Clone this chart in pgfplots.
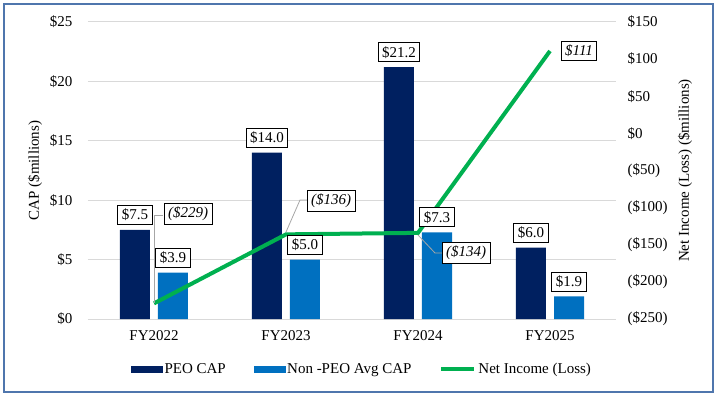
\documentclass[border=0pt]{standalone}
\usepackage{fontspec}
\setmainfont{Liberation Serif}
\usepackage{pgfplots}
\pgfplotsset{compat=1.18}
\definecolor{peo}{HTML}{002060}
\definecolor{npeo}{HTML}{0070C0}
\definecolor{ni}{HTML}{00B050}
\definecolor{gridc}{HTML}{D9D9D9}
\definecolor{framec}{HTML}{4F76AD}
\definecolor{leadc}{HTML}{A6A6A6}
\newcommand\F{\fontsize{15bp}{18bp}\selectfont\rmfamily}
\pgfplotstableread{
x peo npeo peolab npeolab
0 7.5 3.9 \$7.5 \$3.9
1 14.0 5.0 \$14.0 \$5.0
2 21.2 7.3 \$21.2 \$7.3
3 6.0 1.9 \$6.0 \$1.9
}\captable
\begin{document}
\begin{tikzpicture}
\useasboundingbox (-88bp,-78bp) rectangle (630bp,319bp);
\draw[framec, line width=2bp] (-84bp,-73bp) rectangle (625bp,315bp);
\pgfplotsset{
  base/.style={
    scale only axis, width=528bp, height=297bp,
    xmin=-0.5, xmax=3.5,
    axis line style={draw=none},
    major tick length=0pt,
    tick label style={font=\F},
    clip=false,
  },
  barax/.style={base, ymin=0, ymax=25, ybar, bar width=30bp},
}
% bars
\begin{axis}[barax,
  ytick={0,5,...,25},
  yticklabels={\$0,\$5,\$10,\$15,\$20,\$25},
  ymajorgrids, grid style={gridc, line width=1bp},
  xtick={0,1,2,3}, xticklabels={FY2022,FY2023,FY2024,FY2025},
  xticklabel style={anchor=center, yshift=-17bp},
  yticklabel style={anchor=east, xshift=-12bp},
  every axis y label/.style={at={(axis description cs:-0.1004,0.5)}, rotate=90, anchor=center, font=\F},
  ylabel={CAP (\$millions)},
]
\addplot[fill=peo, draw=none, bar shift=-19bp] table[x=x, y=peo] {\captable};
\addplot[fill=npeo, draw=none, bar shift=19bp] table[x=x, y=npeo] {\captable};
\end{axis}
% net income line
\begin{axis}[base,
  ymin=-250, ymax=150, ytick={-250,-200,...,150},
  yticklabels={(\$250),(\$200),(\$150),(\$100),(\$50),\$0,\$50,\$100,\$150},
  yticklabel pos=right,
  xtick=\empty,
  yticklabel style={anchor=west, xshift=8bp},
  every axis y label/.style={at={(axis description cs:1.1307,0.5)}, rotate=90, anchor=center, font=\F},
  ylabel={Net Income (Loss) (\$millions)},
  legend style={at={(0.519,-0.168)}, anchor=center, draw=none, fill=none, font=\F, legend columns=3,
    /tikz/every even column/.append style={column sep=26bp}},
]
\addlegendimage{legend image code/.code={\fill[peo] (0bp,-3bp) rectangle (31bp,3bp);}}
\addlegendentry{PEO CAP}
\addlegendimage{legend image code/.code={\fill[npeo] (0bp,-3bp) rectangle (31bp,3bp);}}
\addlegendentry{Non -PEO Avg CAP}
\addplot[ni, line width=4bp, mark=none, legend image code/.code={\draw[ni, line width=4bp] (0bp,0bp) -- (33bp,0bp);}]
  coordinates {(0,-229) (1,-136) (2,-134) (3,111)};
\addlegendentry{Net Income (Loss)}
\end{axis}
% bar value labels on top of the line
\begin{axis}[barax, hide axis,
  nodes near coords, point meta=explicit symbolic,
  every node near coord/.append style={font=\F, text=black, draw=black, fill=white, inner xsep=4bp, inner ysep=3.5bp, line width=0.8bp, anchor=south, yshift=5bp},
]
\addplot[fill=none, draw=none, bar shift=-19bp] table[x=x, y=peo, meta=peolab] {\captable};
\addplot[fill=none, draw=none, bar shift=19bp] table[x=x, y=npeo, meta=npeolab] {\captable};
\end{axis}
% leader lines and net income labels
\draw[leadc, line width=0.8bp] (66bp,16bp) -- (66bp,104bp) -- (75bp,104bp);
\draw[leadc, line width=0.8bp] (198bp,87bp) -- (212bp,119bp) -- (219bp,119bp);
\draw[leadc, line width=0.8bp] (330bp,84bp) -- (347bp,66bp) -- (355bp,66bp);
\tikzset{nil/.style={font=\F\itshape, draw=black, fill=white, inner xsep=4bp, inner ysep=3.5bp, line width=0.8bp}}
\node[nil] at (100bp,105.5bp) {(\$229)};
\node[nil] at (243bp,118bp) {(\$136)};
\node[nil] at (378bp,66bp) {(\$134)};
\node[nil] at (491bp,268bp) {\$111};
\end{tikzpicture}
\end{document}
